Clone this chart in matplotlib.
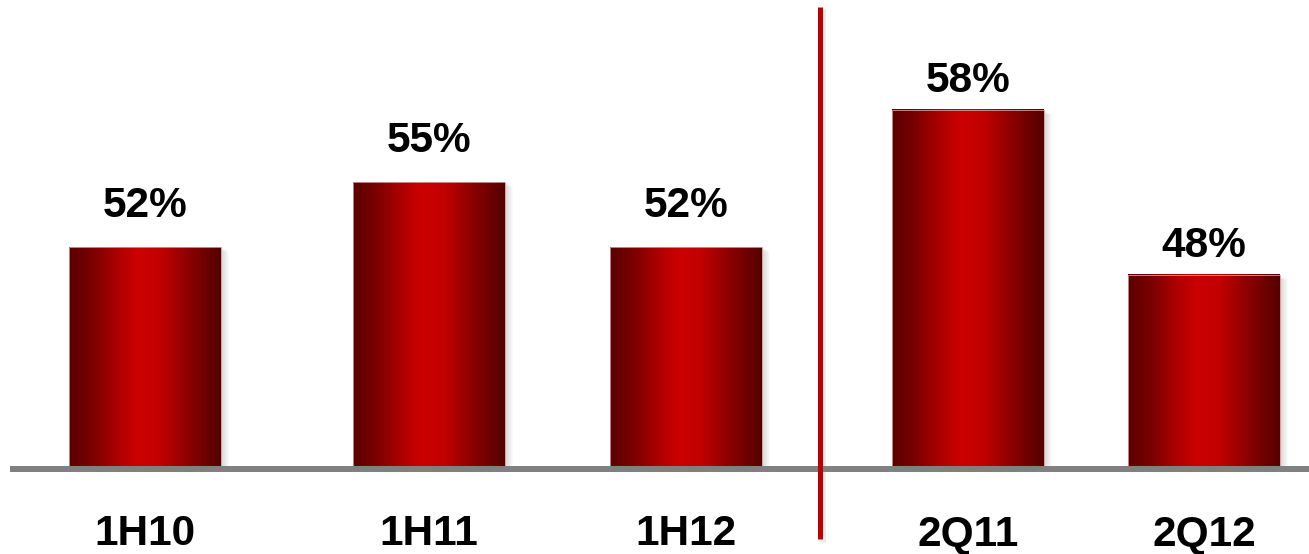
import matplotlib
matplotlib.use("Agg")
import matplotlib.pyplot as plt
import numpy as np
from matplotlib.colors import LinearSegmentedColormap
from matplotlib.patches import Rectangle
from matplotlib.lines import Line2D
from matplotlib.transforms import offset_copy

# ---- data ----
half_labels = ["1H10", "1H11", "1H12"]
half_values = [52, 55, 52]
quarter_labels = ["2Q11", "2Q12"]
quarter_values = [58, 48]

# ---- layout (pixel-based x positions on a 1309 px wide canvas) ----
W, H = 1309, 554
half_x = [145, 429, 686]
quarter_x = [968, 1204]
bar_w = 152
base_px = 466            # baseline row, from top
half_ylim = (41.9, 63.4)
quarter_ylim = (36.42, 64.66)

plt.rcParams["font.family"] = ["Liberation Sans", "DejaVu Sans"]

fig = plt.figure(figsize=(W / 100, H / 100), dpi=100)
fig.patch.set_facecolor("white")

bottom = (H - base_px) / H
height = base_px / H

ax_l = fig.add_axes([0, bottom, 1, height])
ax_r = fig.add_axes([0, bottom, 1, height])
for ax, yl in ((ax_l, half_ylim), (ax_r, quarter_ylim)):
    ax.set_xlim(0, W)
    ax.set_ylim(*yl)
    ax.axis("off")
    ax.patch.set_alpha(0)

# divider shadow, then baseline, then divider
fig.add_artist(Line2D([823 / W] * 2, [(H - 542) / H, (H - 9) / H], transform=fig.transFigure,
                      color="#ebebeb", lw=5 * 72 / 100, solid_capstyle="butt", zorder=0))
fig.add_artist(Line2D([10 / W, 1], [(H - 469) / H] * 2, transform=fig.transFigure,
                      color="#808080", lw=6 * 72 / 100, solid_capstyle="butt", zorder=1))
fig.add_artist(Line2D([819.5 / W] * 2, [(H - 539) / H, (H - 7) / H], transform=fig.transFigure,
                      color="#c00000", lw=5 * 72 / 100, solid_capstyle="butt", zorder=2))

cmap = LinearSegmentedColormap.from_list(
    "barred",
    [(0.0, "#5a0000"), (0.15, "#7a0000"), (0.30, "#a80000"), (0.45, "#cc0000"),
     (0.60, "#c20000"), (0.80, "#880000"), (1.0, "#540000")])
grad = np.linspace(0, 1, 256).reshape(1, -1)


def draw_bars(ax, xs, vals, labels, ylim, value_gap, label_drop):
    y0 = ylim[0]
    for x, v, lab in zip(xs, vals, labels):
        x0, x1 = x - bar_w / 2, x + bar_w / 2
        # soft shadow to the right / below
        for k in range(1, 9):
            sh = Rectangle((x0, y0), bar_w, v - y0, facecolor="black",
                           edgecolor="none", alpha=0.018, zorder=2)
            sh.set_transform(offset_copy(ax.transData, fig=fig, x=k * 0.72, y=-k * 0.4,
                                         units="points"))
            ax.add_patch(sh)
        ax.imshow(grad, cmap=cmap, extent=[x0, x1, y0, v], aspect="auto",
                  interpolation="bicubic", zorder=3)
        ax.add_patch(Rectangle((x0, y0), bar_w, v - y0, facecolor="none",
                               edgecolor="#d49a9a", lw=0.6, zorder=4))
        ax.annotate(f"{v}%", xy=(x, v), xytext=(0, value_gap), textcoords="offset points",
                    ha="center", va="baseline", fontsize=30.5, fontweight="bold",
                    color="black", annotation_clip=False)
        ax.annotate(lab, xy=(x, y0), xytext=(0, -label_drop), textcoords="offset points",
                    ha="center", va="baseline", fontsize=30.5, fontweight="bold",
                    color="black", annotation_clip=False)
    ax.set_xlim(0, W)
    ax.set_ylim(*ylim)


draw_bars(ax_l, half_x, half_values, half_labels, half_ylim, 22, 57)
draw_bars(ax_r, quarter_x, quarter_values, quarter_labels, quarter_ylim, 13, 57.5)

fig.savefig("out.png", dpi=100, facecolor="white")
